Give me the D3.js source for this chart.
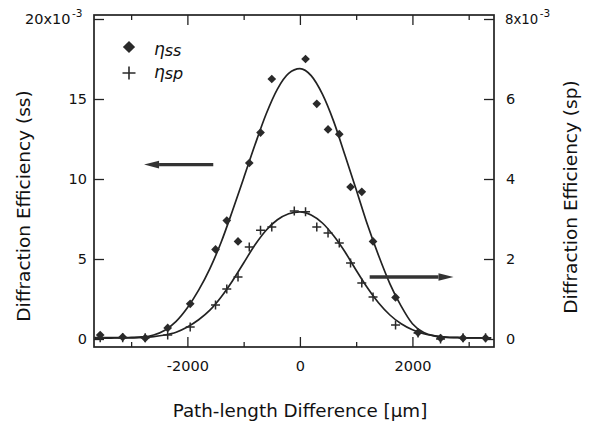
<!DOCTYPE html>
<html>
<head>
<meta charset="utf-8">
<title>Diffraction efficiency</title>
<script src="https://cdn.jsdelivr.net/npm/d3@7"></script>
<style>
  body { margin: 0; background: #fff; }
  text { font-family: "DejaVu Sans", sans-serif; fill: #111; }
</style>
</head>
<body>
<div id="chart"></div>
<script>
// measured points (x in um, ss in 1e-3 on left axis, sp in 1e-3 on right axis)
var ssX = [-3550, -3150, -2750, -2350, -1950, -1500, -1300, -1100, -900, -700, -500, 100, 300, 500, 700, 900, 1100, 1300, 1700, 2100, 2500, 2900, 3300];
var ssY = [0.25, 0.12, 0.06, 0.69, 2.2, 5.6, 7.4, 6.1, 11.0, 12.9, 16.25, 17.5, 14.7, 13.1, 12.8, 9.5, 9.2, 6.1, 2.6, 0.4, 0.06, 0.06, 0.06];

var spX = [-3550, -3150, -2750, -2350, -1950, -1500, -1300, -1100, -900, -700, -500, -100, 100, 300, 500, 700, 900, 1100, 1300, 1700, 2100, 2500, 2900, 3300];
var spY = [0.03, 0.03, 0.03, 0.1, 0.3, 0.85, 1.25, 1.55, 2.3, 2.72, 2.8, 3.2, 3.18, 2.8, 2.65, 2.4, 1.9, 1.4, 1.05, 0.35, 0.15, 0.0, 0.03, 0.03];

// fitted curves
var fitX = [-3650, -3400, -3200, -3000, -2800, -2600, -2400, -2200, -2000, -1800, -1600, -1400, -1200, -1000, -800, -600, -400, -200, 0,
            200, 400, 600, 800, 1000, 1200, 1400, 1600, 1800, 2000, 2200, 2400, 2600, 2800, 3000, 3200, 3400];
var ssFit = [0.08, 0.08, 0.08, 0.1, 0.13, 0.25, 0.55, 1.1, 1.95, 3.05, 4.4, 6.05, 8.0, 10.05, 12.12, 14.06, 15.62, 16.6, 16.9,
             16.46, 15.3, 13.6, 11.5, 9.35, 7.15, 5.2, 3.45, 2.05, 0.95, 0.4, 0.18, 0.1, 0.08, 0.07, 0.07, 0.07];
var spFit = [0.02, 0.02, 0.03, 0.03, 0.04, 0.06, 0.1, 0.17, 0.3, 0.48, 0.72, 1.05, 1.45, 1.9, 2.35, 2.72, 2.98, 3.13, 3.18,
             3.1, 2.9, 2.58, 2.18, 1.72, 1.28, 0.9, 0.6, 0.38, 0.23, 0.13, 0.08, 0.05, 0.04, 0.03, 0.03, 0.03];

var xMajor = [-2000, 0, 2000];
var xMinor = [-3000, -1000, 1000, 3000];
var leftTicks = [0, 5, 10, 15];
var rightTicks = [0, 2, 4, 6];
var leftTop = 20, rightTop = 8;

var W = 589, H = 427;
var L = 94, R = 494, T = 15, B = 347;
var ink = '#222';

var svg = d3.select('#chart').append('svg')
    .attr('width', W)
    .attr('height', H);

var x = d3.scaleLinear().domain([-3660, 3450]).range([L, R]);
var yL = d3.scaleLinear().domain([-0.5, 20.25]).range([B, T]);
var yR = d3.scaleLinear().domain([-0.2, 8.1]).range([B, T]);

function styleAxis(g) {
    g.select('.domain').remove();
    g.selectAll('line').attr('stroke', ink).attr('stroke-width', 1.3);
    g.selectAll('text').style('font-size', '14.5px').attr('fill', '#111');
}
var plain = function(d) { return String(d); };

// left axis
svg.append('g')
    .attr('transform', 'translate(' + L + ',0)')
    .call(d3.axisLeft(yL).tickValues(leftTicks.concat([leftTop])).tickSize(-10).tickPadding(7)
        .tickFormat(function(d) { return d === leftTop ? '' : plain(d); }))
    .call(styleAxis);

// right axis
svg.append('g')
    .attr('transform', 'translate(' + R + ',0)')
    .call(d3.axisRight(yR).tickValues(rightTicks.concat([rightTop])).tickSize(-10).tickPadding(12)
        .tickFormat(function(d) { return d === rightTop ? '' : plain(d); }))
    .call(styleAxis);

// top labels with the exponent, drawn as two texts side by side
function expLabel(x0, y, base, size) {
    var t = svg.append('text')
        .attr('x', x0).attr('y', y + 5)
        .style('font-size', size + 'px')
        .text(base + 'x10');
    var w = t.node().getComputedTextLength();
    svg.append('text')
        .attr('x', x0 + w + 1.5).attr('y', y - 2)
        .style('font-size', '10.5px')
        .text('-3');
}
expLabel(25, yL(leftTop), leftTop, 14.5);
expLabel(505, yR(rightTop), rightTop, 13.3);

// bottom axis, major then minor
svg.append('g')
    .attr('transform', 'translate(0,' + B + ')')
    .call(d3.axisBottom(x).tickValues(xMajor).tickSize(-10).tickPadding(14).tickFormat(plain))
    .call(styleAxis);
svg.append('g')
    .attr('transform', 'translate(0,' + B + ')')
    .call(d3.axisBottom(x).tickValues(xMinor).tickSize(-5).tickFormat(''))
    .call(styleAxis);

// top axis ticks only
svg.append('g')
    .attr('transform', 'translate(0,' + T + ')')
    .call(d3.axisTop(x).tickValues(xMajor).tickSize(-10).tickFormat(''))
    .call(styleAxis);
svg.append('g')
    .attr('transform', 'translate(0,' + T + ')')
    .call(d3.axisTop(x).tickValues(xMinor).tickSize(-5).tickFormat(''))
    .call(styleAxis);

// frame
svg.append('rect')
    .attr('x', L).attr('y', T)
    .attr('width', R - L).attr('height', B - T)
    .attr('fill', 'none')
    .attr('stroke', ink)
    .attr('stroke-width', 1.7);

// fit curves
var ssLine = d3.line()
    .x(function(d, i) { return x(fitX[i]); })
    .y(function(d) { return yL(d); })
    .curve(d3.curveMonotoneX);
var spLine = d3.line()
    .x(function(d, i) { return x(fitX[i]); })
    .y(function(d) { return yR(d); })
    .curve(d3.curveMonotoneX);

svg.append('path').attr('d', ssLine(ssFit))
    .attr('fill', 'none').attr('stroke', ink).attr('stroke-width', 1.7);
svg.append('path').attr('d', spLine(spFit))
    .attr('fill', 'none').attr('stroke', ink).attr('stroke-width', 1.7);

// markers
var diamond = d3.symbol().type(d3.symbolSquare);
function crossPath(r) {
    return 'M' + (-r) + ',0H' + r + 'M0,' + (-r) + 'V' + r;
}

svg.append('g').selectAll('path')
    .data(ssY)
    .join('path')
    .attr('d', diamond.size(38))
    .attr('transform', function(d, i) { return 'translate(' + x(ssX[i]) + ',' + yL(d) + ') rotate(45)'; })
    .attr('fill', '#2a2a2a');

svg.append('g').selectAll('path')
    .data(spY)
    .join('path')
    .attr('d', crossPath(4.5))
    .attr('transform', function(d, i) { return 'translate(' + x(spX[i]) + ',' + yR(d) + ')'; })
    .attr('stroke', '#2a2a2a')
    .attr('stroke-width', 1.5)
    .attr('fill', 'none');

// legend
var leg = svg.append('g');
leg.append('path')
    .attr('d', diamond.size(75))
    .attr('transform', 'translate(129,47) rotate(45)')
    .attr('fill', '#2a2a2a');
leg.append('path')
    .attr('d', crossPath(6.5))
    .attr('transform', 'translate(129,73)')
    .attr('stroke', '#2a2a2a').attr('stroke-width', 1.6).attr('fill', 'none');
var lt1 = leg.append('text').attr('x', 154).attr('y', 55).style('font-size', '17px').style('font-style', 'italic');
lt1.append('tspan').text('η');
lt1.append('tspan').attr('dy', 1).style('font-size', '16px').text('ss');
var lt2 = leg.append('text').attr('x', 154).attr('y', 78).style('font-size', '17px').style('font-style', 'italic');
lt2.append('tspan').text('η');
lt2.append('tspan').attr('dy', 1).style('font-size', '16px').text('sp');

// arrows pointing at the axis each curve belongs to
function arrow(x0, x1, y) {
    var dir = x1 < x0 ? -1 : 1;
    var head = 15;
    svg.append('line')
        .attr('x1', x0).attr('x2', x1 - dir * head)
        .attr('y1', y).attr('y2', y)
        .attr('stroke', '#333').attr('stroke-width', 3.4);
    svg.append('path')
        .attr('d', 'M' + x1 + ',' + y + 'L' + (x1 - dir * head) + ',' + (y - 3.8) + 'L' + (x1 - dir * head) + ',' + (y + 3.8) + 'Z')
        .attr('fill', '#333');
}
arrow(x(-1540), x(-2770), yL(10.9));
arrow(x(1240), x(2730), yR(1.55));

// axis titles
svg.append('text')
    .attr('transform', 'translate(30,206) rotate(-90)')
    .attr('text-anchor', 'middle')
    .style('font-size', '18.5px')
    .text('Diffraction Efficiency (ss)');
svg.append('text')
    .attr('transform', 'translate(577,197) rotate(-90)')
    .attr('text-anchor', 'middle')
    .style('font-size', '18.5px')
    .text('Diffraction Efficiency (sp)');
svg.append('text')
    .attr('x', 300).attr('y', 417)
    .attr('text-anchor', 'middle')
    .style('font-size', '18.3px')
    .text('Path-length Difference [μm]');
</script>
</body>
</html>
